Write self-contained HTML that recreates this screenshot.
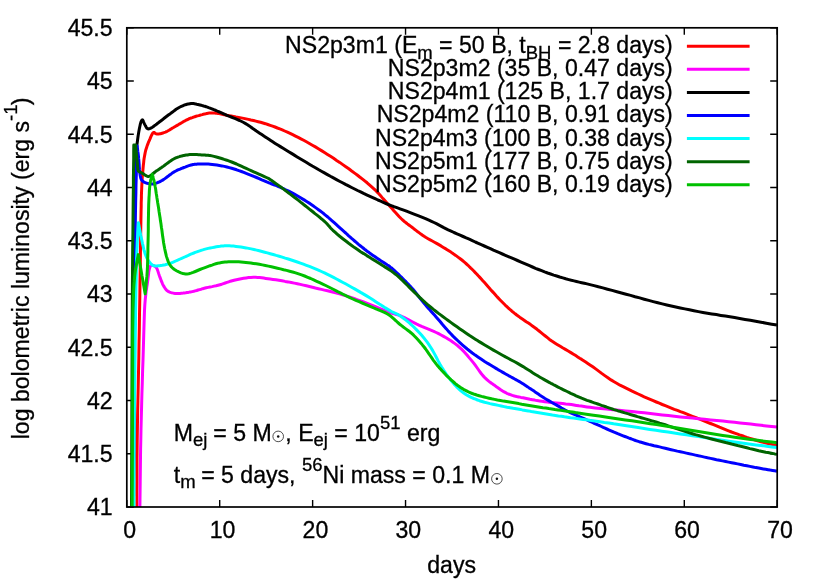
<!DOCTYPE html>
<html><head><meta charset="utf-8"><title>plot</title>
<style>
html,body{margin:0;padding:0;background:#fff;}
svg{display:block;will-change:transform;}
text{font-family:"Liberation Sans",sans-serif;fill:#000;stroke:#000;stroke-width:0.3px;}
</style></head><body>
<svg width="830" height="581" viewBox="0 0 830 581">
<rect x="0" y="0" width="830" height="581" fill="#ffffff"/>

<text x="112.6" y="515.2" font-size="23.1" text-anchor="end">41</text>
<text x="112.6" y="462.0" font-size="23.1" text-anchor="end">41.5</text>
<text x="112.6" y="408.7" font-size="23.1" text-anchor="end">42</text>
<text x="112.6" y="355.5" font-size="23.1" text-anchor="end">42.5</text>
<text x="112.6" y="302.2" font-size="23.1" text-anchor="end">43</text>
<text x="112.6" y="249.0" font-size="23.1" text-anchor="end">43.5</text>
<text x="112.6" y="195.7" font-size="23.1" text-anchor="end">44</text>
<text x="112.6" y="142.5" font-size="23.1" text-anchor="end">44.5</text>
<text x="112.6" y="89.2" font-size="23.1" text-anchor="end">45</text>
<text x="112.6" y="36.0" font-size="23.1" text-anchor="end">45.5</text>
<text x="129.6" y="538.3" font-size="23.1" text-anchor="middle">0</text>
<text x="222.5" y="538.3" font-size="23.1" text-anchor="middle">10</text>
<text x="315.4" y="538.3" font-size="23.1" text-anchor="middle">20</text>
<text x="408.3" y="538.3" font-size="23.1" text-anchor="middle">30</text>
<text x="501.3" y="538.3" font-size="23.1" text-anchor="middle">40</text>
<text x="594.2" y="538.3" font-size="23.1" text-anchor="middle">50</text>
<text x="687.1" y="538.3" font-size="23.1" text-anchor="middle">60</text>
<text x="780.0" y="538.3" font-size="23.1" text-anchor="middle">70</text>
<path d="M126.8,507.00h7 M777.2,507.00h-7 M126.8,453.76h7 M777.2,453.76h-7 M126.8,400.51h7 M777.2,400.51h-7 M126.8,347.27h7 M777.2,347.27h-7 M126.8,294.02h7 M777.2,294.02h-7 M126.8,240.78h7 M777.2,240.78h-7 M126.8,187.53h7 M777.2,187.53h-7 M126.8,134.29h7 M777.2,134.29h-7 M126.8,81.04h7 M777.2,81.04h-7 M126.8,27.80h7 M777.2,27.80h-7 M126.80,507.0v-7 M126.80,27.8v7 M219.71,507.0v-7 M219.71,27.8v7 M312.63,507.0v-7 M312.63,27.8v7 M405.54,507.0v-7 M405.54,27.8v7 M498.46,507.0v-7 M498.46,27.8v7 M591.37,507.0v-7 M591.37,27.8v7 M684.29,507.0v-7 M684.29,27.8v7 M777.20,507.0v-7 M777.20,27.8v7" stroke="#000" stroke-width="1.4" fill="none"/>
<clipPath id="c"><rect x="126.8" y="27.8" width="650.4000000000001" height="479.2"/></clipPath>
<g clip-path="url(#c)" fill="none" stroke-width="3" stroke-linejoin="round" stroke-linecap="butt">
<path d="M136.9,507.0 L136.9,498.7 L136.9,490.6 L137.0,482.6 L137.0,474.5 L137.0,466.3 L137.0,457.9 L137.1,449.2 L137.2,440.0 L137.4,427.6 L137.6,414.5 L137.9,400.9 L138.2,387.0 L138.5,372.8 L138.8,358.5 L139.0,344.2 L139.3,330.0 L139.5,314.6 L139.8,298.1 L140.0,281.1 L140.3,264.3 L140.5,248.2 L140.7,233.3 L140.9,220.4 L141.1,210.0 L141.2,206.4 L141.2,203.3 L141.3,200.5 L141.4,197.9 L141.4,195.5 L141.5,193.1 L141.6,190.7 L141.7,188.2 L141.8,185.9 L141.9,183.6 L142.1,181.3 L142.2,179.0 L142.3,176.8 L142.5,174.6 L142.7,172.3 L142.9,170.1 L143.1,167.8 L143.3,165.5 L143.6,163.1 L143.8,160.8 L144.1,158.5 L144.5,156.2 L144.9,154.1 L145.3,152.0 L145.7,150.3 L146.2,148.7 L146.7,147.2 L147.2,145.6 L147.8,144.2 L148.3,142.7 L148.9,141.3 L149.5,140.0 L150.0,138.9 L150.5,137.6 L151.0,136.4 L151.6,135.3 L152.1,134.2 L152.6,133.3 L153.2,132.7 L153.7,132.4 L154.0,132.4 L154.3,132.5 L154.5,132.7 L154.8,132.9 L155.1,133.2 L155.4,133.4 L155.7,133.7 L156.0,133.8 L156.4,133.9 L156.8,134.0 L157.3,134.0 L157.8,134.0 L158.3,134.0 L158.8,133.9 L159.3,133.9 L159.8,133.8 L160.5,133.7 L161.3,133.5 L162.1,133.3 L162.9,133.0 L163.8,132.7 L164.6,132.4 L165.5,132.1 L166.3,131.7 L167.2,131.3 L168.1,130.8 L169.0,130.3 L169.9,129.7 L170.8,129.1 L171.7,128.6 L172.6,128.0 L173.5,127.5 L174.3,127.0 L175.1,126.6 L175.9,126.1 L176.7,125.7 L177.4,125.2 L178.2,124.8 L179.0,124.3 L179.7,123.9 L180.4,123.5 L181.1,123.1 L181.7,122.7 L182.4,122.3 L183.0,121.9 L183.7,121.5 L184.3,121.2 L185.0,120.8 L185.6,120.5 L186.2,120.2 L186.8,119.9 L187.4,119.6 L188.0,119.3 L188.6,119.0 L189.3,118.7 L190.0,118.4 L191.1,118.0 L192.3,117.6 L193.5,117.1 L194.8,116.7 L196.1,116.3 L197.4,115.9 L198.7,115.6 L200.0,115.2 L201.2,114.9 L202.3,114.6 L203.5,114.2 L204.6,113.9 L205.8,113.7 L206.9,113.4 L208.1,113.2 L209.2,113.1 L210.3,113.0 L211.4,113.0 L212.5,113.0 L213.6,113.0 L214.7,113.1 L215.8,113.2 L216.9,113.3 L218.0,113.4 L219.1,113.6 L220.1,113.8 L221.2,114.0 L222.2,114.2 L223.3,114.5 L224.4,114.8 L225.6,115.0 L226.9,115.3 L229.0,115.7 L231.2,116.1 L233.6,116.5 L236.0,117.0 L238.6,117.4 L241.1,117.9 L243.7,118.4 L246.1,118.9 L248.5,119.4 L250.9,120.0 L253.4,120.5 L255.8,121.1 L258.2,121.7 L260.6,122.3 L263.0,123.0 L265.4,123.7 L267.8,124.5 L270.2,125.3 L272.6,126.1 L275.0,127.0 L277.4,128.0 L279.8,128.9 L282.3,129.9 L284.7,131.0 L287.4,132.2 L290.1,133.4 L292.7,134.7 L295.5,136.1 L298.2,137.4 L300.9,138.8 L303.7,140.3 L306.4,141.8 L309.4,143.5 L312.4,145.2 L315.4,146.9 L318.4,148.7 L321.5,150.6 L324.5,152.5 L327.5,154.4 L330.5,156.3 L333.6,158.3 L336.6,160.4 L339.7,162.4 L342.8,164.6 L345.8,166.7 L348.8,168.8 L351.7,171.0 L354.6,173.1 L357.2,175.0 L359.7,177.0 L362.2,178.9 L364.7,180.9 L367.1,182.8 L369.4,184.8 L371.7,186.8 L373.9,188.8 L375.9,190.7 L377.7,192.6 L379.5,194.6 L381.3,196.6 L383.0,198.6 L384.8,200.6 L386.5,202.5 L388.3,204.5 L390.1,206.5 L392.0,208.6 L393.8,210.7 L395.7,212.7 L397.5,214.7 L399.3,216.7 L401.1,218.5 L402.8,220.1 L404.0,221.2 L405.2,222.1 L406.3,223.0 L407.4,223.9 L408.5,224.7 L409.6,225.5 L410.8,226.4 L412.0,227.3 L413.4,228.4 L414.8,229.5 L416.3,230.6 L417.8,231.8 L419.3,232.9 L420.9,234.1 L422.5,235.2 L424.1,236.3 L426.0,237.5 L428.1,238.7 L430.2,239.9 L432.3,241.0 L434.5,242.2 L436.6,243.4 L438.8,244.6 L441.0,245.9 L443.4,247.4 L445.9,248.9 L448.4,250.5 L450.9,252.1 L453.3,253.8 L455.7,255.4 L458.0,257.1 L460.2,258.7 L461.9,260.0 L463.5,261.4 L465.0,262.7 L466.5,264.0 L468.0,265.3 L469.4,266.7 L470.8,268.1 L472.3,269.5 L473.8,271.0 L475.3,272.6 L476.9,274.2 L478.3,275.8 L479.8,277.4 L481.3,279.0 L482.8,280.7 L484.3,282.3 L485.8,284.0 L487.3,285.7 L488.8,287.4 L490.3,289.2 L491.8,290.9 L493.4,292.6 L494.9,294.3 L496.4,296.0 L497.9,297.6 L499.4,299.2 L500.9,300.8 L502.4,302.3 L503.9,303.8 L505.4,305.3 L506.9,306.7 L508.4,308.1 L509.6,309.2 L510.8,310.2 L511.9,311.2 L513.1,312.1 L514.3,313.1 L515.5,314.0 L516.7,315.0 L518.1,316.0 L520.0,317.4 L522.0,318.8 L524.1,320.2 L526.2,321.7 L528.4,323.1 L530.6,324.6 L532.8,326.2 L534.9,327.7 L537.0,329.3 L539.1,331.0 L541.1,332.6 L543.2,334.3 L545.3,336.0 L547.4,337.7 L549.5,339.4 L551.8,341.0 L554.4,342.7 L557.1,344.4 L559.8,346.1 L562.6,347.8 L565.4,349.4 L568.2,351.0 L570.9,352.6 L573.5,354.2 L575.7,355.6 L577.7,356.9 L579.7,358.2 L581.7,359.4 L583.7,360.7 L585.7,362.0 L587.8,363.4 L590.0,364.9 L592.8,366.8 L595.7,368.9 L598.7,371.1 L601.7,373.4 L604.8,375.6 L607.9,377.8 L611.0,379.9 L614.1,381.8 L617.1,383.5 L620.0,385.2 L623.1,386.7 L626.1,388.2 L629.1,389.7 L632.1,391.2 L635.2,392.6 L638.2,394.0 L641.2,395.4 L644.2,396.8 L647.2,398.1 L650.2,399.4 L653.2,400.7 L656.3,402.0 L659.3,403.2 L662.3,404.5 L665.3,405.7 L668.3,406.9 L671.3,408.1 L674.3,409.3 L677.4,410.4 L680.4,411.6 L683.4,412.7 L686.4,413.9 L689.4,415.1 L692.4,416.3 L695.4,417.5 L698.5,418.7 L701.5,419.9 L704.5,421.1 L707.5,422.3 L710.5,423.5 L713.5,424.7 L716.5,425.9 L719.5,427.2 L722.5,428.4 L725.5,429.6 L728.6,430.8 L731.6,432.0 L734.6,433.1 L737.6,434.2 L740.7,435.3 L743.8,436.3 L746.8,437.4 L749.9,438.4 L752.9,439.3 L755.8,440.2 L758.7,441.1 L761.1,441.8 L763.4,442.4 L765.7,443.0 L768.0,443.5 L770.2,444.1 L772.5,444.6 L774.7,445.1 L777.0,445.7" stroke="#ff0000"/>
<path d="M139.9,507.0 L140.0,498.7 L140.1,490.5 L140.2,482.3 L140.3,474.1 L140.4,465.8 L140.5,457.4 L140.6,448.8 L140.8,440.0 L141.0,429.2 L141.3,417.8 L141.6,406.1 L141.9,394.2 L142.3,382.4 L142.6,371.0 L143.0,360.1 L143.3,350.0 L143.5,342.9 L143.7,335.9 L143.9,329.2 L144.1,322.7 L144.3,316.4 L144.5,310.6 L144.8,305.1 L145.2,300.0 L145.5,297.0 L145.8,294.3 L146.1,291.6 L146.5,289.1 L146.8,286.8 L147.2,284.5 L147.5,282.3 L147.8,280.1 L148.0,278.5 L148.2,276.8 L148.4,275.2 L148.6,273.6 L148.7,272.2 L149.0,270.8 L149.2,269.6 L149.5,268.5 L149.7,267.9 L149.8,267.4 L150.0,266.9 L150.2,266.4 L150.4,266.0 L150.6,265.7 L150.9,265.4 L151.2,265.2 L151.7,265.1 L152.2,265.1 L152.8,265.3 L153.4,265.5 L154.1,265.8 L154.7,266.1 L155.3,266.6 L155.8,267.0 L156.4,267.7 L156.9,268.7 L157.4,269.7 L157.8,270.9 L158.2,272.1 L158.6,273.4 L159.0,274.6 L159.4,275.8 L159.9,277.1 L160.4,278.4 L160.9,279.8 L161.4,281.2 L162.0,282.5 L162.5,283.8 L163.1,285.0 L163.7,286.1 L164.2,286.9 L164.7,287.6 L165.1,288.4 L165.6,289.0 L166.2,289.7 L166.7,290.3 L167.3,290.8 L168.0,291.3 L168.8,291.7 L169.6,292.1 L170.4,292.4 L171.3,292.7 L172.3,292.9 L173.2,293.1 L174.1,293.3 L175.0,293.4 L175.9,293.5 L176.7,293.5 L177.6,293.5 L178.4,293.5 L179.3,293.4 L180.2,293.4 L181.1,293.3 L182.0,293.2 L183.2,293.1 L184.4,292.9 L185.7,292.8 L187.0,292.6 L188.3,292.4 L189.6,292.1 L191.0,291.9 L192.3,291.6 L193.8,291.3 L195.2,290.9 L196.7,290.5 L198.1,290.0 L199.6,289.6 L201.2,289.2 L202.7,288.7 L204.3,288.3 L206.2,287.8 L208.1,287.4 L210.1,287.0 L212.1,286.6 L214.1,286.1 L216.1,285.7 L218.1,285.2 L220.0,284.7 L221.8,284.2 L223.5,283.6 L225.2,283.0 L227.0,282.4 L228.7,281.8 L230.4,281.2 L232.2,280.7 L234.1,280.2 L236.4,279.7 L238.7,279.2 L241.2,278.7 L243.6,278.3 L246.1,277.9 L248.6,277.6 L251.0,277.4 L253.4,277.3 L255.5,277.3 L257.6,277.4 L259.7,277.6 L261.7,277.8 L263.7,278.1 L265.8,278.4 L268.0,278.7 L270.2,279.0 L273.0,279.4 L275.9,279.8 L278.9,280.3 L282.0,280.8 L285.1,281.4 L288.2,281.9 L291.3,282.5 L294.3,283.1 L297.3,283.7 L300.3,284.4 L303.4,285.1 L306.4,285.8 L309.4,286.5 L312.4,287.2 L315.4,288.0 L318.4,288.7 L321.4,289.4 L324.4,290.1 L327.5,290.8 L330.5,291.5 L333.5,292.3 L336.5,293.0 L339.5,293.8 L342.5,294.7 L345.5,295.6 L348.6,296.6 L351.6,297.6 L354.6,298.7 L357.6,299.8 L360.6,300.9 L363.6,302.0 L366.6,303.1 L369.7,304.3 L372.9,305.6 L376.1,306.9 L379.4,308.3 L382.5,309.6 L385.5,310.8 L388.2,311.9 L390.7,312.8 L392.0,313.3 L393.2,313.6 L394.4,313.9 L395.4,314.2 L396.5,314.5 L397.6,314.8 L398.7,315.2 L400.0,315.7 L402.1,316.6 L404.4,317.7 L406.7,318.9 L409.2,320.2 L411.8,321.5 L414.3,322.8 L416.8,324.1 L419.3,325.3 L421.7,326.4 L424.1,327.4 L426.6,328.4 L429.0,329.4 L431.4,330.4 L433.8,331.4 L436.2,332.5 L438.6,333.7 L441.1,335.0 L443.6,336.4 L446.1,337.8 L448.5,339.3 L451.0,340.8 L453.3,342.4 L455.6,344.1 L457.8,345.8 L459.8,347.6 L461.8,349.4 L463.6,351.3 L465.4,353.3 L467.2,355.3 L468.9,357.4 L470.6,359.4 L472.3,361.4 L473.9,363.4 L475.4,365.4 L476.9,367.5 L478.3,369.5 L479.8,371.6 L481.2,373.5 L482.7,375.4 L484.3,377.1 L485.7,378.5 L487.2,379.8 L488.7,381.1 L490.2,382.3 L491.8,383.4 L493.3,384.5 L494.9,385.6 L496.4,386.7 L497.9,387.7 L499.3,388.7 L500.7,389.7 L502.2,390.7 L503.7,391.6 L505.2,392.4 L506.8,393.3 L508.4,394.0 L510.3,394.7 L512.3,395.4 L514.4,396.0 L516.5,396.5 L518.7,396.9 L520.9,397.4 L523.1,397.8 L525.3,398.3 L527.6,398.8 L530.0,399.3 L532.3,399.7 L534.7,400.1 L537.1,400.6 L539.6,400.9 L542.1,401.3 L544.6,401.7 L547.5,402.1 L550.5,402.4 L553.5,402.7 L556.6,403.0 L559.7,403.3 L562.7,403.6 L565.7,404.0 L568.7,404.3 L571.4,404.6 L573.9,405.0 L576.4,405.4 L578.9,405.8 L581.4,406.1 L584.1,406.5 L586.9,406.9 L590.0,407.3 L595.1,407.9 L600.7,408.5 L606.6,409.1 L612.9,409.7 L619.3,410.3 L625.7,410.9 L632.0,411.6 L638.2,412.2 L644.2,412.8 L650.3,413.5 L656.3,414.2 L662.3,414.9 L668.3,415.5 L674.3,416.2 L680.4,416.9 L686.4,417.5 L692.4,418.1 L698.5,418.7 L704.6,419.3 L710.7,419.9 L716.8,420.5 L722.8,421.1 L728.7,421.7 L734.6,422.3 L740.0,422.9 L745.4,423.5 L750.7,424.1 L756.0,424.7 L761.2,425.3 L766.5,425.9 L771.7,426.5 L777.0,427.1" stroke="#ff00ff"/>
<path d="M133.5,507.0 L133.6,480.9 L133.7,454.5 L133.8,428.1 L133.9,401.6 L134.0,375.4 L134.1,349.6 L134.3,324.4 L134.5,300.0 L134.6,278.6 L134.6,256.6 L134.6,234.4 L134.6,212.8 L134.8,192.4 L135.2,173.9 L135.9,157.9 L136.9,145.0 L137.5,140.5 L138.1,136.0 L138.8,131.8 L139.5,128.0 L140.2,124.7 L140.9,122.1 L141.6,120.5 L142.3,119.8 L142.6,119.9 L142.8,120.2 L143.1,120.7 L143.4,121.3 L143.6,122.0 L143.9,122.7 L144.2,123.4 L144.5,124.0 L144.9,124.6 L145.2,125.3 L145.6,126.1 L146.0,126.8 L146.4,127.5 L146.8,128.1 L147.2,128.5 L147.7,128.8 L148.1,128.9 L148.5,128.9 L148.9,128.8 L149.3,128.7 L149.7,128.6 L150.2,128.4 L150.6,128.2 L151.0,128.0 L151.5,127.8 L152.0,127.5 L152.5,127.2 L153.0,126.8 L153.5,126.4 L154.0,126.1 L154.5,125.7 L155.0,125.3 L155.6,124.9 L156.2,124.4 L156.8,124.0 L157.4,123.5 L158.0,123.1 L158.6,122.6 L159.3,122.0 L160.0,121.5 L161.1,120.7 L162.3,119.8 L163.5,118.8 L164.8,117.8 L166.1,116.8 L167.4,115.8 L168.7,114.8 L170.0,113.9 L171.2,113.0 L172.5,112.1 L173.7,111.1 L174.9,110.2 L176.1,109.3 L177.4,108.5 L178.7,107.7 L180.0,107.0 L181.3,106.4 L182.7,105.8 L184.1,105.2 L185.5,104.7 L187.0,104.3 L188.4,103.9 L189.8,103.7 L191.1,103.5 L192.2,103.5 L193.4,103.5 L194.5,103.7 L195.6,103.9 L196.7,104.2 L197.8,104.4 L198.9,104.7 L200.0,105.0 L201.2,105.3 L202.4,105.6 L203.6,106.0 L204.8,106.3 L206.1,106.7 L207.3,107.1 L208.6,107.6 L210.0,108.1 L211.9,108.8 L213.9,109.7 L216.0,110.5 L218.2,111.5 L220.4,112.4 L222.6,113.4 L224.8,114.4 L226.9,115.3 L229.0,116.2 L231.2,117.0 L233.3,117.9 L235.4,118.7 L237.5,119.6 L239.6,120.5 L241.7,121.5 L243.7,122.5 L245.6,123.6 L247.5,124.7 L249.3,125.9 L251.1,127.2 L252.8,128.5 L254.6,129.7 L256.4,131.0 L258.2,132.2 L260.0,133.4 L261.8,134.6 L263.5,135.7 L265.3,136.9 L267.0,138.1 L268.9,139.3 L270.7,140.5 L272.7,141.8 L275.2,143.4 L277.8,145.0 L280.4,146.6 L283.1,148.3 L285.9,150.0 L288.7,151.7 L291.5,153.4 L294.3,155.1 L297.2,156.9 L300.2,158.7 L303.2,160.5 L306.2,162.3 L309.3,164.2 L312.3,166.0 L315.4,167.7 L318.4,169.5 L321.4,171.2 L324.4,172.9 L327.4,174.6 L330.4,176.3 L333.4,177.9 L336.5,179.6 L339.5,181.2 L342.5,182.8 L345.5,184.4 L348.5,185.9 L351.6,187.5 L354.6,189.0 L357.6,190.5 L360.6,191.9 L363.6,193.4 L366.6,194.8 L369.4,196.1 L372.2,197.4 L375.1,198.7 L377.9,200.0 L380.7,201.2 L383.3,202.4 L385.9,203.5 L388.3,204.5 L389.9,205.1 L391.3,205.7 L392.7,206.2 L394.0,206.7 L395.4,207.1 L396.8,207.6 L398.3,208.2 L400.0,208.8 L403.0,209.9 L406.5,211.2 L410.2,212.6 L414.0,214.1 L418.0,215.6 L421.8,217.1 L425.5,218.6 L428.9,220.1 L431.5,221.3 L434.0,222.5 L436.4,223.7 L438.7,224.9 L441.0,226.1 L443.3,227.4 L445.7,228.6 L448.2,229.8 L451.1,231.1 L454.0,232.5 L457.0,233.8 L460.1,235.2 L463.1,236.5 L466.2,237.9 L469.3,239.2 L472.3,240.6 L475.3,242.0 L478.3,243.3 L481.3,244.7 L484.3,246.0 L487.4,247.4 L490.4,248.7 L493.4,250.1 L496.4,251.4 L499.4,252.7 L502.4,254.0 L505.4,255.3 L508.4,256.6 L511.5,257.9 L514.5,259.2 L517.5,260.5 L520.5,261.8 L523.5,263.1 L526.5,264.4 L529.5,265.7 L532.5,267.0 L535.5,268.3 L538.5,269.5 L541.6,270.7 L544.6,271.9 L547.6,273.0 L550.6,274.0 L553.7,275.1 L556.7,276.0 L559.7,277.0 L562.8,277.9 L565.7,278.8 L568.7,279.6 L571.4,280.3 L574.0,280.9 L576.5,281.5 L579.1,282.1 L581.7,282.7 L584.3,283.3 L587.1,283.9 L590.0,284.6 L594.1,285.6 L598.4,286.8 L602.8,287.9 L607.5,289.2 L612.1,290.4 L616.9,291.7 L621.5,293.0 L626.1,294.2 L630.6,295.4 L635.1,296.7 L639.7,297.9 L644.2,299.2 L648.7,300.4 L653.2,301.6 L657.8,302.8 L662.3,303.9 L666.8,305.0 L671.3,306.0 L675.8,307.0 L680.3,308.0 L684.8,308.9 L689.4,309.8 L693.9,310.7 L698.4,311.6 L702.9,312.4 L707.4,313.2 L711.8,313.9 L716.3,314.6 L720.8,315.4 L725.3,316.1 L729.9,316.8 L734.6,317.6 L739.7,318.5 L745.0,319.4 L750.3,320.3 L755.6,321.3 L761.0,322.2 L766.3,323.2 L771.7,324.2 L777.0,325.1" stroke="#000000"/>
<path d="M133.5,507.0 L133.6,480.6 L133.8,453.5 L133.9,426.1 L134.0,398.8 L134.1,372.2 L134.3,346.5 L134.4,322.3 L134.6,300.0 L134.7,285.6 L134.8,271.8 L134.9,258.5 L135.1,245.8 L135.2,233.7 L135.3,222.0 L135.5,210.8 L135.7,200.0 L135.9,192.5 L136.0,185.3 L136.2,178.5 L136.4,172.0 L136.6,165.5 L136.8,159.1 L137.0,152.6 L137.2,146.0 L137.4,147.8 L137.6,149.6 L137.8,151.4 L138.1,153.2 L138.3,155.0 L138.5,156.7 L138.6,158.4 L138.8,160.0 L138.9,161.3 L139.0,162.5 L139.1,163.7 L139.2,164.9 L139.2,166.1 L139.3,167.2 L139.4,168.3 L139.5,169.4 L139.6,170.2 L139.6,171.0 L139.7,171.8 L139.8,172.6 L139.9,173.3 L140.0,174.1 L140.1,174.8 L140.2,175.5 L140.3,176.1 L140.5,176.7 L140.6,177.3 L140.7,177.9 L140.9,178.5 L141.1,179.0 L141.3,179.5 L141.6,180.0 L141.9,180.4 L142.2,180.7 L142.5,181.0 L142.9,181.3 L143.3,181.6 L143.7,181.8 L144.1,182.1 L144.5,182.3 L144.9,182.5 L145.3,182.7 L145.7,182.9 L146.2,183.0 L146.6,183.1 L147.1,183.3 L147.5,183.4 L148.0,183.5 L148.5,183.6 L149.1,183.7 L149.6,183.9 L150.2,184.0 L150.8,184.0 L151.4,184.1 L151.9,184.1 L152.5,184.1 L153.1,184.0 L153.6,183.9 L154.2,183.8 L154.7,183.6 L155.3,183.4 L155.9,183.2 L156.4,183.0 L157.0,182.8 L157.6,182.6 L158.2,182.3 L158.9,182.1 L159.5,181.8 L160.1,181.5 L160.8,181.2 L161.5,180.8 L162.2,180.4 L163.5,179.6 L164.9,178.6 L166.4,177.5 L168.0,176.3 L169.6,175.0 L171.2,173.9 L172.7,172.8 L174.2,171.9 L175.3,171.3 L176.4,170.7 L177.4,170.2 L178.5,169.7 L179.5,169.3 L180.5,168.9 L181.6,168.4 L182.7,168.0 L183.9,167.5 L185.1,167.1 L186.3,166.6 L187.6,166.1 L188.8,165.7 L190.0,165.3 L191.2,165.0 L192.3,164.7 L193.1,164.5 L193.8,164.4 L194.6,164.3 L195.3,164.3 L196.0,164.2 L196.7,164.2 L197.5,164.1 L198.3,164.1 L199.6,164.0 L200.9,164.0 L202.3,164.0 L203.7,163.9 L205.2,164.0 L206.8,164.0 L208.4,164.1 L210.0,164.2 L212.2,164.4 L214.5,164.7 L216.9,165.1 L219.4,165.5 L221.9,165.9 L224.4,166.4 L226.9,167.0 L229.3,167.6 L231.7,168.3 L234.1,169.0 L236.6,169.8 L239.0,170.7 L241.4,171.5 L243.8,172.4 L246.2,173.4 L248.6,174.3 L251.2,175.3 L253.8,176.4 L256.5,177.5 L259.2,178.6 L261.8,179.8 L264.3,180.8 L266.7,181.9 L269.0,182.8 L270.5,183.4 L271.9,184.0 L273.3,184.5 L274.6,185.0 L275.9,185.4 L277.2,186.0 L278.5,186.5 L279.9,187.1 L281.6,187.9 L283.4,188.6 L285.1,189.5 L286.9,190.3 L288.8,191.2 L290.6,192.1 L292.5,193.1 L294.3,194.1 L296.4,195.3 L298.5,196.5 L300.6,197.8 L302.8,199.1 L305.0,200.4 L307.1,201.8 L309.2,203.1 L311.2,204.5 L313.1,205.8 L314.9,207.1 L316.7,208.4 L318.5,209.7 L320.3,211.0 L322.1,212.4 L323.9,213.8 L325.7,215.3 L327.8,217.0 L329.9,218.9 L332.1,220.8 L334.2,222.7 L336.4,224.7 L338.5,226.6 L340.5,228.4 L342.5,230.2 L344.1,231.6 L345.7,233.0 L347.2,234.4 L348.7,235.8 L350.2,237.1 L351.6,238.4 L353.1,239.7 L354.6,241.0 L356.0,242.2 L357.4,243.4 L358.8,244.6 L360.2,245.7 L361.7,246.9 L363.1,248.0 L364.5,249.2 L366.0,250.3 L367.5,251.5 L369.1,252.6 L370.7,253.8 L372.3,254.9 L373.9,256.0 L375.5,257.1 L377.1,258.2 L378.7,259.3 L380.1,260.3 L381.6,261.2 L383.0,262.1 L384.5,263.0 L385.9,263.9 L387.3,264.9 L388.7,265.8 L390.0,266.8 L391.2,267.8 L392.5,268.8 L393.7,269.8 L394.8,270.9 L396.0,272.0 L397.1,273.0 L398.3,274.1 L399.4,275.2 L400.5,276.3 L401.7,277.4 L402.8,278.6 L403.9,279.7 L405.0,280.8 L406.1,281.9 L407.1,283.0 L408.0,283.9 L408.6,284.5 L409.1,285.0 L409.5,285.5 L410.0,286.0 L410.4,286.4 L410.9,287.0 L411.4,287.5 L412.0,288.2 L413.2,289.6 L414.6,291.3 L416.1,293.2 L417.6,295.2 L419.3,297.3 L420.9,299.4 L422.5,301.4 L424.1,303.3 L425.6,305.0 L427.0,306.7 L428.5,308.4 L430.0,310.0 L431.4,311.7 L433.0,313.4 L434.5,315.1 L436.1,316.9 L438.1,319.2 L440.1,321.5 L442.1,324.0 L444.2,326.4 L446.4,328.9 L448.5,331.4 L450.8,333.8 L453.0,336.1 L455.3,338.3 L457.6,340.5 L459.9,342.7 L462.3,344.8 L464.7,346.9 L467.2,349.0 L469.7,351.0 L472.3,353.0 L475.2,355.1 L478.3,357.2 L481.4,359.3 L484.6,361.4 L487.8,363.4 L490.9,365.2 L493.8,367.0 L496.4,368.6 L498.0,369.6 L499.6,370.5 L501.0,371.3 L502.4,372.1 L503.8,372.9 L505.2,373.7 L506.6,374.5 L508.0,375.3 L509.5,376.2 L511.1,377.0 L512.7,377.9 L514.3,378.8 L515.8,379.6 L517.4,380.5 L519.0,381.4 L520.5,382.3 L522.0,383.2 L523.4,384.1 L524.8,385.0 L526.3,386.0 L527.7,386.9 L529.1,387.9 L530.5,388.8 L532.0,389.8 L533.6,390.8 L535.1,391.9 L536.7,393.0 L538.3,394.1 L539.9,395.2 L541.5,396.2 L543.1,397.2 L544.6,398.2 L545.9,399.0 L547.1,399.7 L548.3,400.4 L549.5,401.1 L550.7,401.8 L551.9,402.5 L553.2,403.2 L554.5,404.0 L556.2,404.9 L557.9,405.9 L559.7,406.9 L561.5,408.0 L563.4,409.0 L565.2,410.0 L567.1,411.0 L568.9,411.9 L570.7,412.8 L572.5,413.6 L574.3,414.4 L576.1,415.2 L578.0,416.0 L579.8,416.8 L581.6,417.6 L583.4,418.4 L585.2,419.2 L587.0,420.0 L588.8,420.8 L590.6,421.7 L592.4,422.5 L594.2,423.3 L596.0,424.1 L597.8,424.9 L599.6,425.7 L601.4,426.5 L603.2,427.4 L605.0,428.2 L606.9,429.0 L608.7,429.8 L610.5,430.6 L612.3,431.4 L614.1,432.2 L615.9,432.9 L617.7,433.7 L619.5,434.4 L621.3,435.1 L623.1,435.8 L624.9,436.5 L626.7,437.2 L628.5,437.9 L630.2,438.5 L632.0,439.2 L633.8,439.8 L635.5,440.5 L637.4,441.1 L639.2,441.7 L641.2,442.3 L643.6,443.0 L646.1,443.7 L648.7,444.4 L651.4,445.0 L654.1,445.7 L656.8,446.3 L659.6,446.9 L662.3,447.6 L665.2,448.3 L668.2,449.0 L671.2,449.7 L674.2,450.4 L677.3,451.1 L680.3,451.7 L683.4,452.4 L686.4,453.1 L689.4,453.8 L692.4,454.4 L695.4,455.1 L698.4,455.8 L701.5,456.4 L704.5,457.1 L707.5,457.8 L710.5,458.4 L713.5,459.0 L716.5,459.7 L719.5,460.3 L722.5,460.9 L725.6,461.5 L728.6,462.1 L731.6,462.7 L734.6,463.3 L737.6,463.9 L740.7,464.5 L743.8,465.2 L746.9,465.8 L749.9,466.4 L752.9,467.0 L755.8,467.6 L758.7,468.1 L761.1,468.5 L763.4,468.9 L765.7,469.3 L768.0,469.7 L770.2,470.1 L772.5,470.4 L774.7,470.8 L777.0,471.2" stroke="#0000ff"/>
<path d="M133.9,507.0 L133.9,498.5 L133.9,489.8 L133.9,481.1 L133.9,472.4 L133.9,463.9 L133.9,455.5 L134.0,447.6 L134.0,440.0 L134.1,434.6 L134.1,429.7 L134.2,425.0 L134.3,420.5 L134.3,415.9 L134.4,411.0 L134.5,405.8 L134.6,400.0 L134.7,389.4 L134.9,377.4 L135.0,364.3 L135.2,350.7 L135.3,337.0 L135.5,323.6 L135.6,311.2 L135.8,300.0 L135.9,292.8 L136.0,285.9 L136.2,279.3 L136.3,273.0 L136.4,266.9 L136.5,261.0 L136.7,255.4 L136.9,250.0 L137.1,246.2 L137.2,242.6 L137.4,239.2 L137.6,235.8 L137.8,232.6 L138.0,229.3 L138.2,226.1 L138.4,222.7 L138.8,224.8 L139.2,227.0 L139.6,229.2 L140.0,231.3 L140.4,233.5 L140.8,235.6 L141.3,237.7 L141.7,239.8 L142.1,241.7 L142.5,243.6 L143.0,245.6 L143.4,247.5 L143.8,249.3 L144.3,251.0 L144.8,252.7 L145.3,254.2 L145.7,255.2 L146.0,256.1 L146.4,257.0 L146.8,257.8 L147.2,258.6 L147.6,259.3 L148.0,260.1 L148.5,260.8 L149.0,261.5 L149.5,262.1 L150.0,262.8 L150.5,263.4 L151.1,264.0 L151.6,264.5 L152.2,264.9 L152.8,265.3 L153.3,265.5 L153.8,265.7 L154.2,265.8 L154.7,265.9 L155.3,265.9 L155.8,265.9 L156.4,265.9 L157.0,265.9 L158.1,265.8 L159.4,265.7 L160.8,265.5 L162.3,265.3 L163.8,265.0 L165.3,264.7 L166.8,264.3 L168.2,263.9 L169.7,263.4 L171.2,262.9 L172.7,262.3 L174.2,261.7 L175.7,261.0 L177.2,260.3 L178.7,259.7 L180.2,259.0 L181.7,258.3 L183.2,257.7 L184.7,257.0 L186.2,256.3 L187.8,255.6 L189.3,254.9 L190.8,254.2 L192.3,253.6 L193.8,253.0 L195.2,252.4 L196.7,251.9 L198.2,251.3 L199.7,250.8 L201.2,250.3 L202.7,249.9 L204.3,249.4 L206.2,248.9 L208.2,248.4 L210.2,248.0 L212.3,247.6 L214.3,247.2 L216.3,246.8 L218.2,246.5 L220.0,246.3 L221.3,246.1 L222.4,246.0 L223.5,245.9 L224.6,245.8 L225.7,245.8 L226.8,245.8 L228.0,245.8 L229.3,245.8 L231.4,245.9 L233.6,246.1 L236.0,246.4 L238.5,246.7 L241.0,247.1 L243.6,247.5 L246.1,247.9 L248.6,248.4 L251.2,248.9 L253.9,249.5 L256.6,250.1 L259.3,250.8 L262.0,251.5 L264.7,252.2 L267.4,252.9 L270.2,253.7 L273.2,254.5 L276.2,255.4 L279.2,256.2 L282.2,257.1 L285.2,258.1 L288.3,259.0 L291.3,260.0 L294.3,261.0 L297.3,262.0 L300.4,263.1 L303.4,264.2 L306.4,265.3 L309.4,266.4 L312.4,267.6 L315.4,268.8 L318.4,270.1 L321.4,271.5 L324.5,272.9 L327.5,274.4 L330.5,275.9 L333.5,277.4 L336.5,279.0 L339.5,280.6 L342.5,282.2 L345.5,283.8 L348.6,285.5 L351.6,287.2 L354.6,288.9 L357.6,290.6 L360.6,292.4 L363.6,294.1 L366.6,295.9 L369.7,297.8 L372.9,299.8 L376.1,301.9 L379.3,304.0 L382.5,306.0 L385.4,307.9 L388.2,309.6 L390.7,311.1 L392.0,311.8 L393.3,312.4 L394.4,312.9 L395.5,313.4 L396.6,313.9 L397.7,314.4 L398.8,315.0 L400.0,315.7 L401.7,316.9 L403.5,318.2 L405.3,319.6 L407.2,321.1 L409.1,322.7 L410.9,324.3 L412.7,326.0 L414.5,327.7 L416.4,329.6 L418.2,331.5 L420.1,333.5 L421.9,335.6 L423.7,337.7 L425.4,339.9 L427.2,342.2 L428.9,344.6 L430.8,347.5 L432.7,350.6 L434.5,353.9 L436.3,357.3 L438.0,360.6 L439.8,363.9 L441.6,367.0 L443.4,369.9 L444.9,372.1 L446.4,374.3 L447.9,376.3 L449.4,378.3 L450.9,380.3 L452.4,382.1 L453.9,383.9 L455.4,385.5 L456.6,386.8 L457.8,387.9 L458.9,389.1 L460.1,390.1 L461.2,391.1 L462.5,392.1 L463.7,393.1 L465.1,394.0 L466.7,395.0 L468.3,395.9 L470.1,396.8 L471.8,397.7 L473.7,398.5 L475.6,399.2 L477.5,400.0 L479.5,400.7 L482.0,401.5 L484.5,402.3 L487.2,402.9 L490.0,403.6 L492.7,404.2 L495.6,404.8 L498.4,405.4 L501.2,406.0 L504.1,406.6 L507.1,407.2 L510.1,407.7 L513.2,408.3 L516.2,408.8 L519.2,409.3 L522.3,409.9 L525.3,410.4 L528.3,410.9 L531.3,411.5 L534.3,412.0 L537.3,412.5 L540.4,413.0 L543.4,413.5 L546.4,414.0 L549.4,414.5 L552.4,415.0 L555.4,415.4 L558.4,415.9 L561.4,416.3 L564.4,416.8 L567.4,417.2 L570.4,417.7 L573.5,418.1 L576.7,418.6 L579.9,419.0 L583.1,419.4 L586.4,419.8 L589.7,420.3 L593.0,420.7 L596.4,421.2 L600.0,421.7 L604.4,422.4 L609.0,423.0 L613.6,423.8 L618.4,424.5 L623.2,425.3 L628.2,426.1 L633.2,426.8 L638.2,427.6 L644.0,428.5 L649.9,429.4 L655.9,430.3 L661.9,431.2 L668.1,432.1 L674.2,433.0 L680.3,433.9 L686.4,434.8 L692.4,435.7 L698.5,436.6 L704.6,437.6 L710.7,438.5 L716.7,439.4 L722.8,440.3 L728.7,441.2 L734.6,442.0 L740.0,442.8 L745.4,443.5 L750.7,444.2 L756.0,444.9 L761.2,445.5 L766.5,446.2 L771.7,446.9 L777.0,447.6" stroke="#00ffff"/>
<path d="M131.5,507.0 L131.6,480.6 L131.7,453.5 L131.8,426.1 L131.9,398.8 L132.0,372.2 L132.1,346.5 L132.2,322.3 L132.3,300.0 L132.4,285.6 L132.5,271.8 L132.6,258.6 L132.7,245.9 L132.9,233.8 L133.0,222.1 L133.1,210.8 L133.2,200.0 L133.3,192.3 L133.4,185.1 L133.4,178.1 L133.5,171.4 L133.6,164.8 L133.7,158.3 L133.7,151.7 L133.8,144.9 L135.6,144.9 L137.9,170.0 L138.0,170.1 L138.0,170.3 L138.1,170.4 L138.2,170.6 L138.3,170.7 L138.3,170.9 L138.5,171.0 L138.6,171.2 L139.0,171.5 L139.4,171.8 L140.0,172.1 L140.6,172.4 L141.2,172.7 L141.9,173.0 L142.5,173.3 L143.0,173.6 L143.4,173.9 L143.8,174.1 L144.2,174.4 L144.6,174.7 L144.9,174.9 L145.3,175.2 L145.6,175.4 L146.0,175.6 L146.3,175.8 L146.6,175.9 L146.9,176.1 L147.2,176.2 L147.4,176.3 L147.7,176.4 L148.0,176.5 L148.3,176.5 L148.6,176.5 L148.8,176.4 L149.1,176.3 L149.4,176.2 L149.6,176.1 L149.9,175.9 L150.2,175.8 L150.5,175.6 L151.0,175.3 L151.5,174.9 L152.0,174.5 L152.6,174.0 L153.2,173.5 L153.8,173.0 L154.4,172.5 L155.0,172.0 L155.8,171.4 L156.6,170.8 L157.5,170.3 L158.4,169.7 L159.3,169.1 L160.2,168.4 L161.2,167.8 L162.2,167.1 L163.6,166.1 L165.0,165.0 L166.5,163.9 L168.1,162.7 L169.7,161.6 L171.2,160.5 L172.7,159.5 L174.2,158.7 L175.3,158.2 L176.4,157.7 L177.4,157.3 L178.5,156.9 L179.5,156.6 L180.5,156.2 L181.6,156.0 L182.7,155.7 L183.9,155.4 L185.0,155.2 L186.2,155.0 L187.4,154.9 L188.6,154.7 L189.8,154.6 L191.0,154.6 L192.3,154.5 L193.8,154.5 L195.3,154.5 L196.9,154.6 L198.5,154.7 L200.1,154.8 L201.6,154.9 L203.0,155.0 L204.3,155.1 L205.1,155.1 L205.8,155.2 L206.5,155.2 L207.1,155.2 L207.7,155.2 L208.4,155.3 L209.1,155.4 L210.0,155.5 L211.9,155.9 L214.0,156.4 L216.4,157.0 L219.0,157.7 L221.6,158.5 L224.2,159.4 L226.8,160.2 L229.3,161.1 L231.7,162.0 L234.1,163.0 L236.6,164.0 L238.9,165.1 L241.3,166.2 L243.8,167.3 L246.2,168.4 L248.6,169.5 L251.1,170.6 L253.7,171.8 L256.2,172.9 L258.8,174.1 L261.3,175.2 L263.9,176.4 L266.4,177.5 L269.0,178.7 L270.4,179.7 L271.7,180.6 L273.0,181.5 L274.4,182.5 L275.7,183.4 L277.1,184.4 L278.5,185.4 L279.9,186.4 L281.6,187.6 L283.3,188.9 L285.1,190.2 L286.9,191.6 L288.7,193.0 L290.6,194.4 L292.4,195.8 L294.3,197.2 L296.4,198.8 L298.5,200.4 L300.6,202.1 L302.8,203.8 L304.9,205.5 L307.0,207.2 L309.1,208.9 L311.2,210.5 L313.1,212.0 L315.0,213.6 L317.0,215.1 L318.9,216.6 L320.7,218.2 L322.5,219.6 L324.2,221.1 L325.7,222.5 L326.7,223.5 L327.6,224.5 L328.4,225.4 L329.2,226.3 L330.0,227.3 L330.8,228.2 L331.8,229.2 L332.9,230.3 L335.0,232.2 L337.4,234.3 L340.0,236.5 L342.8,238.7 L345.8,241.0 L348.7,243.3 L351.7,245.5 L354.6,247.6 L357.5,249.6 L360.6,251.7 L363.7,253.6 L366.8,255.6 L369.9,257.5 L372.9,259.4 L375.9,261.2 L378.7,263.0 L381.0,264.4 L383.1,265.8 L385.2,267.1 L387.3,268.4 L389.3,269.7 L391.4,271.1 L393.4,272.6 L395.5,274.2 L397.9,276.2 L400.3,278.4 L402.7,280.7 L405.2,283.1 L407.6,285.5 L409.9,287.9 L412.2,290.2 L414.5,292.4 L416.4,294.2 L418.2,295.9 L419.9,297.6 L421.6,299.2 L423.4,300.8 L425.1,302.4 L427.0,304.1 L428.9,305.7 L431.1,307.5 L433.4,309.4 L435.8,311.2 L438.2,313.1 L440.6,314.9 L443.1,316.8 L445.6,318.6 L448.2,320.5 L451.1,322.6 L454.0,324.7 L457.0,326.8 L460.0,329.0 L463.1,331.1 L466.2,333.2 L469.2,335.3 L472.3,337.3 L475.3,339.2 L478.3,341.1 L481.3,342.9 L484.3,344.7 L487.3,346.5 L490.3,348.3 L493.4,350.1 L496.4,351.8 L499.4,353.5 L502.5,355.2 L505.5,356.9 L508.6,358.5 L511.7,360.2 L514.7,361.8 L517.6,363.4 L520.5,365.1 L523.1,366.6 L525.6,368.2 L528.1,369.8 L530.6,371.3 L533.0,372.9 L535.4,374.4 L537.7,375.8 L540.0,377.2 L541.9,378.3 L543.8,379.4 L545.6,380.4 L547.4,381.4 L549.1,382.3 L550.9,383.3 L552.7,384.2 L554.5,385.2 L556.3,386.1 L558.1,387.1 L559.9,388.0 L561.7,388.9 L563.5,389.8 L565.3,390.7 L567.1,391.5 L568.9,392.4 L570.7,393.3 L572.5,394.1 L574.3,394.9 L576.1,395.8 L577.9,396.6 L579.8,397.4 L581.6,398.2 L583.4,398.9 L585.2,399.6 L587.0,400.3 L588.8,400.9 L590.6,401.5 L592.4,402.2 L594.2,402.8 L596.0,403.4 L597.8,404.0 L599.6,404.6 L601.4,405.3 L603.2,405.9 L605.0,406.5 L606.9,407.2 L608.7,407.8 L610.5,408.4 L612.3,409.0 L614.1,409.6 L615.9,410.1 L617.7,410.7 L619.5,411.2 L621.3,411.8 L623.1,412.3 L624.9,412.9 L626.7,413.4 L628.5,413.9 L630.3,414.5 L632.0,415.0 L633.8,415.5 L635.6,416.0 L637.4,416.6 L639.3,417.1 L641.2,417.7 L643.6,418.4 L646.2,419.1 L648.8,419.9 L651.4,420.7 L654.1,421.4 L656.8,422.2 L659.6,423.1 L662.3,423.9 L665.2,424.8 L668.2,425.8 L671.2,426.8 L674.2,427.9 L677.3,428.9 L680.3,429.9 L683.4,430.9 L686.4,431.9 L689.4,432.8 L692.4,433.7 L695.4,434.6 L698.4,435.4 L701.4,436.3 L704.5,437.1 L707.5,437.9 L710.5,438.7 L713.5,439.5 L716.5,440.3 L719.5,441.0 L722.5,441.7 L725.6,442.5 L728.6,443.2 L731.6,444.0 L734.6,444.7 L737.6,445.5 L740.7,446.2 L743.8,447.0 L746.8,447.8 L749.9,448.6 L752.9,449.3 L755.8,450.0 L758.7,450.7 L761.1,451.2 L763.4,451.7 L765.7,452.2 L768.0,452.6 L770.2,453.0 L772.5,453.4 L774.7,453.9 L777.0,454.3" stroke="#006400"/>
<path d="M132.2,507.0 L132.2,493.6 L132.3,480.2 L132.3,466.7 L132.4,453.3 L132.4,439.9 L132.5,426.5 L132.5,413.2 L132.6,400.0 L132.6,386.9 L132.7,373.3 L132.7,359.5 L132.7,345.9 L132.7,332.8 L132.9,320.6 L133.0,309.5 L133.3,300.0 L133.5,295.6 L133.6,291.6 L133.8,287.9 L134.0,284.5 L134.3,281.2 L134.5,278.1 L134.8,275.1 L135.2,272.0 L135.5,269.6 L135.9,267.4 L136.3,265.2 L136.7,263.0 L137.1,260.9 L137.5,258.9 L137.9,256.7 L138.3,254.6 L138.7,256.9 L139.1,259.2 L139.5,261.4 L139.9,263.7 L140.3,266.0 L140.7,268.3 L141.1,270.6 L141.5,273.0 L141.9,275.5 L142.4,278.1 L142.9,280.7 L143.3,283.4 L143.8,286.0 L144.3,288.6 L144.7,291.3 L145.2,293.9 L145.5,290.9 L145.8,288.0 L146.0,285.1 L146.3,282.1 L146.6,279.2 L146.9,276.2 L147.1,273.1 L147.3,270.0 L147.5,266.4 L147.6,262.8 L147.7,259.2 L147.8,255.5 L147.9,251.7 L147.9,247.9 L148.0,244.0 L148.1,240.0 L148.2,235.2 L148.3,230.0 L148.3,224.7 L148.4,219.4 L148.5,214.1 L148.6,209.0 L148.7,204.3 L148.9,200.0 L149.0,197.4 L149.2,194.8 L149.3,192.4 L149.4,190.1 L149.6,187.9 L149.8,185.8 L150.0,183.8 L150.3,182.0 L150.5,180.9 L150.7,179.8 L151.0,178.9 L151.2,177.9 L151.5,177.0 L151.8,176.1 L152.0,175.2 L152.3,174.3 L152.6,175.4 L152.9,176.4 L153.1,177.4 L153.4,178.5 L153.7,179.5 L154.0,180.6 L154.2,181.8 L154.5,183.0 L154.9,184.8 L155.2,186.8 L155.6,188.8 L155.9,191.0 L156.2,193.2 L156.6,195.4 L156.9,197.7 L157.3,200.0 L157.7,202.8 L158.2,205.7 L158.7,208.7 L159.1,211.8 L159.6,214.9 L160.1,218.0 L160.5,221.1 L161.0,224.1 L161.4,227.2 L161.9,230.3 L162.3,233.5 L162.7,236.6 L163.2,239.7 L163.6,242.7 L164.1,245.5 L164.6,248.2 L165.0,250.1 L165.4,251.9 L165.8,253.7 L166.2,255.4 L166.7,257.1 L167.2,258.6 L167.7,260.1 L168.2,261.4 L168.6,262.3 L169.0,263.1 L169.4,263.9 L169.8,264.6 L170.3,265.3 L170.7,265.9 L171.2,266.6 L171.8,267.2 L172.4,267.8 L173.1,268.4 L173.8,269.0 L174.5,269.5 L175.3,270.0 L176.1,270.5 L176.9,271.0 L177.8,271.4 L178.8,271.9 L179.8,272.3 L180.9,272.8 L182.0,273.2 L183.2,273.5 L184.4,273.7 L185.6,273.9 L186.9,273.9 L188.8,273.7 L190.9,273.1 L193.1,272.4 L195.3,271.5 L197.6,270.5 L199.9,269.5 L202.1,268.6 L204.3,267.8 L206.3,267.1 L208.2,266.4 L210.1,265.7 L212.0,265.1 L213.9,264.4 L215.8,263.8 L217.7,263.3 L219.6,262.9 L221.4,262.6 L223.2,262.3 L225.0,262.1 L226.7,261.9 L228.5,261.8 L230.3,261.7 L232.2,261.7 L234.1,261.7 L236.4,261.7 L238.7,261.8 L241.0,262.0 L243.5,262.2 L245.9,262.4 L248.4,262.7 L250.9,263.0 L253.4,263.4 L256.3,263.8 L259.3,264.3 L262.3,264.9 L265.3,265.5 L268.4,266.1 L271.4,266.8 L274.5,267.5 L277.5,268.2 L280.5,268.9 L283.6,269.7 L286.6,270.4 L289.6,271.2 L292.6,272.0 L295.6,272.9 L298.6,273.9 L301.6,274.9 L304.6,276.0 L307.7,277.3 L310.7,278.5 L313.7,279.9 L316.7,281.3 L319.7,282.7 L322.7,284.1 L325.7,285.5 L328.7,287.0 L331.7,288.5 L334.7,290.0 L337.7,291.6 L340.8,293.1 L343.8,294.7 L346.8,296.2 L349.8,297.6 L352.8,299.0 L355.9,300.4 L359.1,301.7 L362.2,303.0 L365.3,304.3 L368.3,305.6 L371.2,306.8 L373.9,308.0 L375.9,308.9 L377.8,309.6 L379.7,310.4 L381.5,311.1 L383.2,311.8 L385.0,312.6 L386.6,313.5 L388.3,314.5 L389.9,315.6 L391.5,316.8 L393.0,318.1 L394.5,319.5 L396.0,320.8 L397.4,322.2 L398.9,323.5 L400.4,324.8 L401.9,325.9 L403.3,327.0 L404.8,328.1 L406.2,329.1 L407.7,330.2 L409.1,331.3 L410.6,332.5 L412.0,333.7 L413.6,335.2 L415.1,336.7 L416.6,338.3 L418.2,340.0 L419.7,341.7 L421.2,343.4 L422.6,345.2 L424.1,347.0 L425.6,349.0 L427.1,351.1 L428.6,353.3 L430.1,355.5 L431.6,357.6 L433.0,359.8 L434.6,361.9 L436.1,363.9 L437.6,365.7 L439.0,367.4 L440.5,369.1 L442.0,370.8 L443.6,372.4 L445.1,374.0 L446.6,375.6 L448.2,377.1 L449.7,378.5 L451.1,379.9 L452.6,381.2 L454.1,382.5 L455.6,383.8 L457.1,385.0 L458.6,386.1 L460.2,387.2 L461.6,388.1 L463.1,389.0 L464.5,389.9 L466.0,390.6 L467.5,391.4 L469.0,392.1 L470.6,392.8 L472.3,393.5 L474.5,394.3 L476.7,395.0 L479.1,395.7 L481.5,396.4 L484.0,397.0 L486.5,397.6 L489.0,398.2 L491.6,398.8 L494.5,399.4 L497.4,400.0 L500.4,400.5 L503.5,401.1 L506.5,401.6 L509.6,402.1 L512.7,402.6 L515.7,403.1 L518.7,403.6 L521.7,404.2 L524.7,404.7 L527.7,405.2 L530.8,405.7 L533.8,406.2 L536.8,406.7 L539.8,407.2 L542.8,407.7 L545.8,408.1 L548.8,408.6 L551.8,409.0 L554.9,409.5 L557.9,409.9 L560.9,410.3 L563.9,410.8 L566.9,411.3 L569.7,411.7 L572.6,412.1 L575.4,412.6 L578.3,413.0 L581.4,413.5 L584.6,414.0 L588.0,414.5 L593.4,415.3 L599.3,416.1 L605.5,417.0 L612.0,418.0 L618.7,418.9 L625.3,419.9 L631.9,420.8 L638.2,421.8 L644.3,422.7 L650.3,423.7 L656.4,424.6 L662.4,425.6 L668.4,426.6 L674.4,427.6 L680.4,428.5 L686.4,429.5 L692.4,430.5 L698.5,431.5 L704.6,432.5 L710.7,433.5 L716.7,434.4 L722.8,435.4 L728.7,436.3 L734.6,437.2 L740.0,438.0 L745.4,438.7 L750.7,439.4 L756.0,440.1 L761.2,440.8 L766.5,441.4 L771.7,442.1 L777.0,442.8" stroke="#00c000"/>
</g>
<rect x="126.8" y="27.8" width="650.4000000000001" height="479.2" fill="none" stroke="#000" stroke-width="1.7"/>
<text x="672.8" y="53.1" font-size="23.1" text-anchor="end">NS2p3m1 (E<tspan font-size="18.5" dy="5.8">m</tspan><tspan dy="-5.8"> = 50 B, t</tspan><tspan font-size="18.5" dy="5.8">BH</tspan><tspan dy="-5.8"> = 2.8 days)</tspan></text>
<path d="M686.9,46.2H749.6" stroke="#ff0000" stroke-width="3" fill="none"/>
<text x="672.8" y="76.2" font-size="23.1" text-anchor="end">NS2p3m2 (35 B, 0.47 days)</text>
<path d="M686.9,69.3H749.6" stroke="#ff00ff" stroke-width="3" fill="none"/>
<text x="672.8" y="99.3" font-size="23.1" text-anchor="end">NS2p4m1 (125 B, 1.7 days)</text>
<path d="M686.9,92.4H749.6" stroke="#000000" stroke-width="3" fill="none"/>
<text x="672.8" y="122.4" font-size="23.1" text-anchor="end">NS2p4m2 (110 B, 0.91 days)</text>
<path d="M686.9,115.5H749.6" stroke="#0000ff" stroke-width="3" fill="none"/>
<text x="672.8" y="145.5" font-size="23.1" text-anchor="end">NS2p4m3 (100 B, 0.38 days)</text>
<path d="M686.9,138.6H749.6" stroke="#00ffff" stroke-width="3" fill="none"/>
<text x="672.8" y="168.6" font-size="23.1" text-anchor="end">NS2p5m1 (177 B, 0.75 days)</text>
<path d="M686.9,161.7H749.6" stroke="#006400" stroke-width="3" fill="none"/>
<text x="672.8" y="191.7" font-size="23.1" text-anchor="end">NS2p5m2 (160 B, 0.19 days)</text>
<path d="M686.9,184.8H749.6" stroke="#00c000" stroke-width="3" fill="none"/>
<text x="173.8" y="440.5" font-size="23.1">M<tspan font-size="18.5" dy="5.8">ej</tspan><tspan dy="-5.8" dx="-0.6"> = 5 M</tspan></text>
<circle cx="278.2" cy="436.4" r="5.3" fill="none" stroke="#222" stroke-width="0.8"/><circle cx="278.2" cy="436.4" r="1.25" fill="#111"/>
<text x="285.3" y="440.5" font-size="23.1">, E<tspan font-size="18.5" dy="5.8">ej</tspan><tspan dy="-5.8"> = 10</tspan><tspan font-size="18.5" dy="-12">51</tspan><tspan dy="12"> erg</tspan></text>
<text x="173.8" y="482.6" font-size="23.1">t<tspan font-size="18.5" dy="5.8">m</tspan><tspan dy="-5.8" dx="-0.9"> = 5 days, </tspan><tspan font-size="18.5" dy="-12">56</tspan><tspan dy="12">Ni mass = 0.1 M</tspan></text>
<circle cx="496.9" cy="478.8" r="5.3" fill="none" stroke="#222" stroke-width="0.8"/><circle cx="496.9" cy="478.8" r="1.25" fill="#111"/>
<text x="451.6" y="572.9" font-size="23.1" text-anchor="middle">days</text>
<text transform="translate(28.5,439.3) rotate(-90)" font-size="23.1">log bolometric luminosity (erg s<tspan font-size="18.5" dy="-12">-1</tspan><tspan dy="12" dx="-0.7">)</tspan></text>
</svg></body></html>
